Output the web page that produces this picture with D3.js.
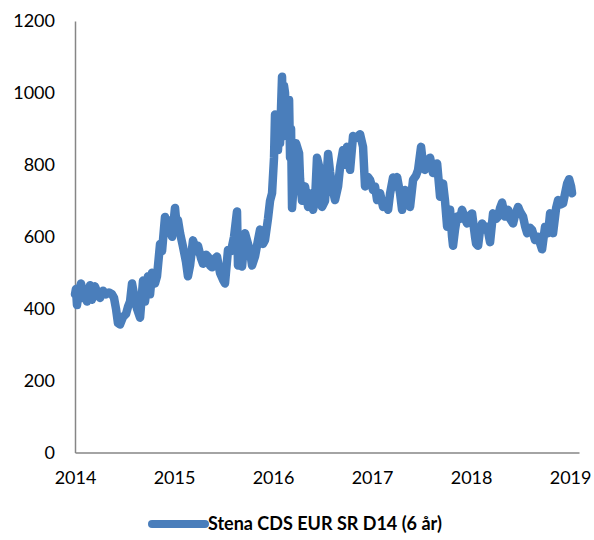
<!DOCTYPE html>
<html><head><meta charset="utf-8">
<script src="https://cdn.jsdelivr.net/npm/d3@7"></script>
<style>body{margin:0;background:#fff;}svg{display:block;}text{font-family:Lato,"Open Sans",sans-serif;}</style>
</head><body>
<svg id="chart" width="594" height="540"></svg>
<script>
const seriesName = "Stena CDS EUR SR D14 (6 år)";
const yTicks = [0, 200, 400, 600, 800, 1000, 1200];
const xTicks = [2014, 2015, 2016, 2017, 2018, 2019];
const dates = [
2014.000,2014.010,2014.020,2014.040,2014.061,2014.081,2014.101,2014.121,2014.152,2014.172,
2014.202,2014.232,2014.253,2014.283,2014.313,2014.343,2014.374,2014.394,2014.414,2014.434,
2014.455,2014.485,2014.515,2014.535,2014.556,2014.576,2014.596,2014.606,2014.626,2014.657,
2014.687,2014.707,2014.737,2014.758,2014.778,2014.808,2014.828,2014.859,2014.879,2014.909,
2014.929,2014.960,2014.980,2015.010,2015.030,2015.040,2015.061,2015.091,2015.121,2015.141,
2015.162,2015.192,2015.222,2015.242,2015.273,2015.293,2015.323,2015.343,2015.364,2015.384,
2015.414,2015.434,2015.465,2015.495,2015.515,2015.545,2015.576,2015.606,2015.636,2015.646,
2015.667,2015.687,2015.717,2015.747,2015.768,2015.788,2015.818,2015.848,2015.869,2015.899,
2015.919,2015.949,2015.970,2015.990,2016.010,2016.020,2016.030,2016.040,2016.050,2016.061,
2016.071,2016.081,2016.091,2016.101,2016.111,2016.121,2016.131,2016.141,2016.152,2016.162,
2016.172,2016.182,2016.192,2016.212,2016.232,2016.263,2016.273,
2016.293,2016.323,2016.354,2016.384,2016.404,2016.424,2016.444,2016.475,2016.495,2016.525,
2016.556,2016.576,2016.596,2016.626,2016.657,2016.677,2016.707,2016.727,2016.747,2016.778,
2016.808,2016.838,2016.879,2016.909,2016.929,2016.960,2016.980,2017.010,2017.030,2017.051,
2017.081,2017.111,2017.141,2017.162,2017.182,2017.212,2017.232,2017.253,2017.283,2017.303,
2017.333,2017.364,2017.384,2017.414,2017.444,2017.465,2017.495,2017.515,2017.535,2017.566,
2017.586,2017.616,2017.657,2017.687,2017.717,2017.737,2017.758,2017.788,2017.808,2017.818,
2017.838,2017.859,2017.889,2017.909,2017.939,2017.960,2017.990,2018.010,2018.040,2018.051,
2018.071,2018.091,2018.111,2018.141,2018.162,2018.192,2018.222,2018.253,2018.273,2018.293,
2018.313,2018.343,2018.374,2018.394,2018.424,2018.444,2018.475,2018.495,2018.525,2018.545,
2018.566,2018.596,2018.616,2018.646,2018.677,2018.697,2018.717,2018.747,2018.778,2018.798,
2018.828,2018.859,2018.879,2018.909,2018.929,2018.949,2018.970,2018.990,2019.010,2019.020
];
const values = [
440,455,410,450,470,430,455,420,465,425,
462,440,430,450,440,445,440,430,400,360,
356,377,385,405,420,470,440,424,400,375,
478,420,490,440,500,470,490,580,560,655,
610,646,600,680,620,646,610,572,530,490,
520,590,560,575,540,525,550,545,520,515,
540,545,499,480,470,563,560,600,670,520,
530,517,610,580,560,520,545,590,620,580,
591,650,700,721,820,940,850,920,841,900,
860,960,1045,880,1020,1000,900,940,905,980,
820,900,680,760,860,832,760,
700,740,683,720,675,700,820,785,683,700,
830,780,740,702,740,794,841,800,850,786,
880,875,885,850,740,766,758,730,740,702,
721,683,690,675,720,765,740,766,720,675,
730,700,683,758,770,786,850,800,786,800,
820,777,804,711,748,700,628,675,600,575,
620,656,650,675,650,637,660,665,600,580,
575,620,637,620,628,585,665,650,656,680,
695,656,675,650,637,660,683,670,656,630,
610,625,619,591,600,582,565,628,610,665,
610,680,702,690,693,720,748,760,740,721
];

const svg = d3.select("#chart");
const x = d3.scaleLinear().domain([2014, 2019.09]).range([75, 579]);
const y = d3.scaleLinear().domain([0, 1200]).range([452.5, 21]);
const axisColor = "#868686";

// y axis
const yAxis = svg.append("g").attr("transform", "translate(75,0)")
  .call(d3.axisLeft(y).tickValues(yTicks).tickSize(0).tickPadding(20).tickFormat(d3.format("d")));
yAxis.select(".domain").attr("stroke", axisColor).attr("stroke-width", 1.5);
yAxis.selectAll("text").attr("font-size", 18).attr("fill", "#000").attr("font-family", "Lato");

// x axis
const xAxis = svg.append("g").attr("transform", "translate(0,452.5)")
  .call(d3.axisBottom(x).tickValues(xTicks).tickSize(0).tickPadding(19).tickFormat(d3.format("d")));
xAxis.select(".domain").attr("stroke", axisColor).attr("stroke-width", 1.5);
xAxis.selectAll("text").attr("font-size", 18).attr("fill", "#000").attr("font-family", "Lato");

const data = dates.map((d, i) => ({t: d, v: values[i]}));
const line = d3.line().x(d => x(d.t)).y(d => y(d.v));
svg.append("path").datum(data)
  .attr("d", line).attr("fill", "none")
  .attr("stroke", "#4a7ebb").attr("stroke-width", 8.5)
  .attr("stroke-linejoin", "round").attr("stroke-linecap", "round");

// legend
const lg = svg.append("g");
lg.append("line").attr("x1", 152).attr("x2", 205).attr("y1", 524).attr("y2", 524)
  .attr("stroke", "#4a7ebb").attr("stroke-width", 8).attr("stroke-linecap", "round");
lg.append("text").attr("x", 208).attr("y", 530).attr("font-size", 18).attr("font-weight", "bold")
  .attr("fill", "#000").text(seriesName);
</script>
</body></html>
